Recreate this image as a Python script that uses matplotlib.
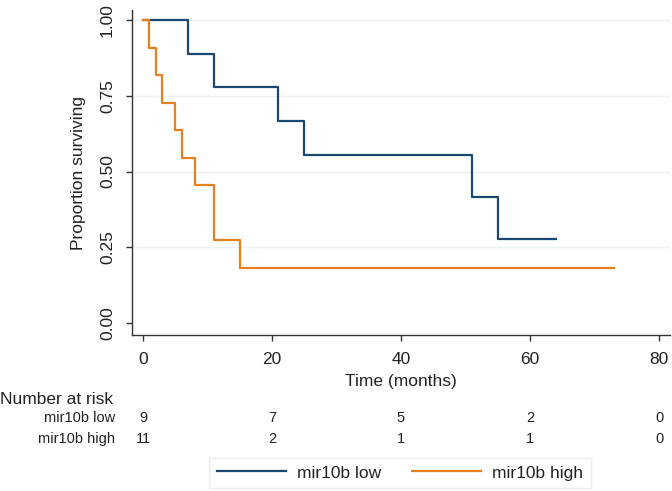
import matplotlib
matplotlib.use("Agg")
import matplotlib.pyplot as plt
import matplotlib.transforms as mtransforms

plt.rcParams["font.family"] = ["Liberation Sans", "DejaVu Sans"]

# Kaplan-Meier steps
low_times = [0, 7, 11, 21, 25, 51, 55, 64]
low_surv = [1.0, 0.889, 0.778, 0.667, 0.556, 0.417, 0.278, 0.278]
high_times = [0, 1, 2, 3, 5, 6, 8, 11, 15, 73]
high_surv = [1.0, 0.909, 0.818, 0.727, 0.636, 0.545, 0.455, 0.273, 0.182, 0.182]

risk_times = [0, 20, 40, 60, 80]
risk_low = [9, 7, 5, 2, 0]
risk_high = [11, 2, 1, 1, 0]
group_names = ["mir10b low", "mir10b high"]

blue = "#1a476f"
orange = "#e8801e"
text_col = "#222222"

fig = plt.figure(figsize=(6.72, 4.91), dpi=100)
ax = fig.add_axes([0.196, 0.3177, 0.801, 0.6619])

ax.set_xlim(-1.75, 81.7)
ax.set_ylim(-0.0396, 1.033)
for y in [0.25, 0.5, 0.75, 1.0]:
    ax.axhline(y, color="#eaf2f3", linewidth=1.0, zorder=0)

ax.step(low_times, low_surv, where="post", color=blue, linewidth=1.6, label=group_names[0])
ax.step(high_times, high_surv, where="post", color=orange, linewidth=1.6, label=group_names[1])

ax.set_xticks(risk_times)
ax.set_yticks([0, 0.25, 0.5, 0.75, 1.0])
ax.set_yticklabels(["0.00", "0.25", "0.50", "0.75", "1.00"], rotation=90, va="center")
ax.tick_params(direction="out", length=4, width=1, color="#333333", labelcolor=text_col,
               labelsize=12.5)
ax.tick_params(axis="x", pad=8)
ax.tick_params(axis="y", pad=8)
for side in ["top", "right"]:
    ax.spines[side].set_visible(False)
for side in ["left", "bottom"]:
    ax.spines[side].set_color("#333333")
    ax.spines[side].set_linewidth(1.0)

ax.set_xlabel("Time (months)", fontsize=12.5, labelpad=5, color=text_col)
ax.set_ylabel("Proportion surviving", fontsize=12.5, labelpad=10, color=text_col)

# number at risk table
trans = mtransforms.blended_transform_factory(ax.transData, fig.transFigure)
fig.text(0.0, 1 - 400 / 491, "Number at risk", fontsize=12.5, va="center", ha="left",
         color=text_col)
rows = [risk_low, risk_high]
row_y = [1 - 418 / 491, 1 - 439 / 491]
for name, vals, yy in zip(group_names, rows, row_y):
    fig.text(115 / 672, yy, name, fontsize=10.5, ha="right", va="center", color=text_col)
    for t, v in zip(risk_times, vals):
        ax.text(t, yy, str(v), transform=trans, fontsize=10.5, ha="center", va="center",
                color=text_col)

leg = fig.legend(loc="center", bbox_to_anchor=(0.595, 0.0367), ncol=2, fontsize=12.5,
                 frameon=True, fancybox=False, handlelength=4.0, handletextpad=0.6,
                 columnspacing=1.8, borderpad=0.45)
leg.get_frame().set_edgecolor("#e4ecef")
leg.get_frame().set_linewidth(1.0)
for t in leg.get_texts():
    t.set_color(text_col)

fig.savefig("out.png", dpi=100)
